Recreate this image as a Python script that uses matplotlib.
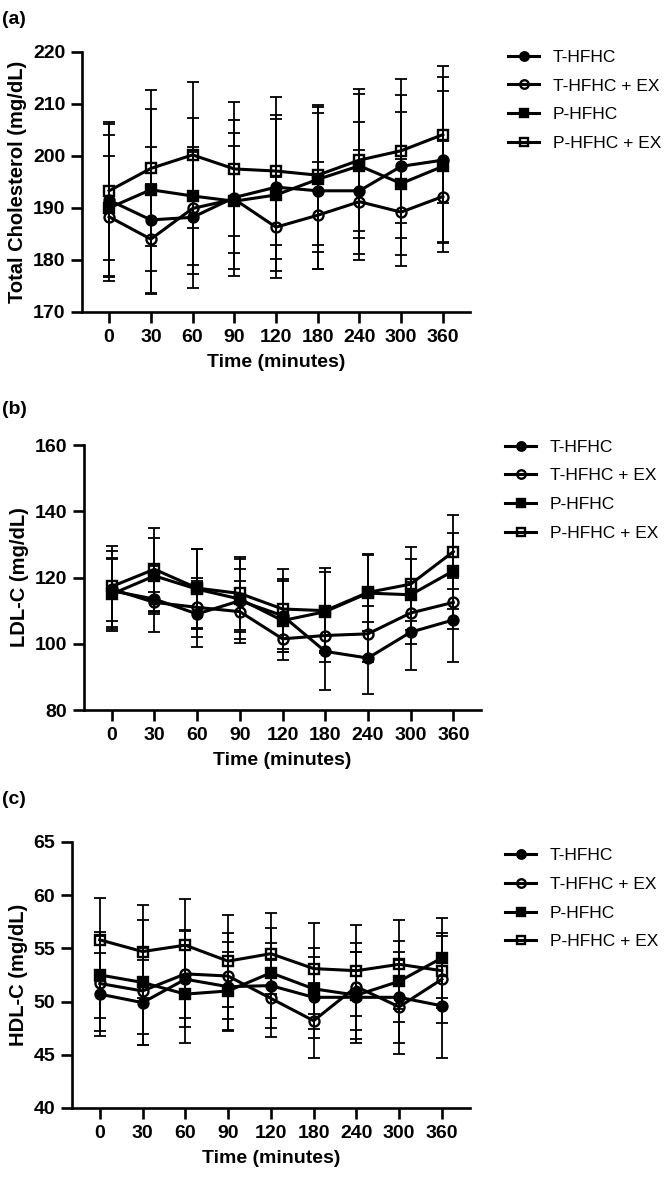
import matplotlib
matplotlib.use("Agg")
import matplotlib.pyplot as plt

plt.rcParams['font.family'] = ['Liberation Sans', 'DejaVu Sans']

times = ['0', '30', '60', '90', '120', '180', '240', '300', '360']
groups = ['T-HFHC', 'T-HFHC + EX', 'P-HFHC', 'P-HFHC + EX']

# (a) total cholesterol, mean and SD
tc_t = [191.5, 187.7, 188.2, 192.0, 194.0, 193.3, 193.3, 198.0, 199.2]
tc_t_sd = [14.6, 14.0, 13.5, 15.0, 13.9, 15.0, 13.3, 13.7, 15.9]
tc_tex = [188.3, 184.0, 189.9, 191.7, 186.3, 188.6, 191.2, 189.2, 192.2]
tc_tex_sd = [11.6, 10.6, 10.8, 10.3, 9.7, 10.3, 10.0, 10.3, 10.6]
tc_p = [190.0, 193.5, 192.3, 191.3, 192.5, 195.5, 198.1, 194.7, 198.0]
tc_p_sd = [14.0, 15.6, 15.0, 13.1, 14.6, 14.0, 13.8, 13.7, 14.5]
tc_pex = [193.3, 197.6, 200.2, 197.5, 197.1, 196.3, 199.2, 201.0, 204.1]
tc_pex_sd = [13.3, 15.0, 14.1, 12.8, 14.3, 13.5, 13.6, 13.8, 13.2]

# (b) LDL-C
ldl_t = [116.0, 113.5, 109.0, 113.0, 108.5, 97.7, 95.7, 103.5, 107.2]
ldl_t_sd = [12.0, 10.0, 10.0, 9.5, 11.0, 11.7, 11.0, 11.5, 12.7]
ldl_tex = [116.5, 112.5, 111.0, 109.7, 101.5, 102.5, 103.0, 109.3, 112.5]
ldl_tex_sd = [9.5, 3.0, 9.0, 9.4, 4.0, 8.0, 8.5, 9.3, 8.0]
ldl_p = [115.0, 120.5, 116.5, 113.5, 107.0, 109.7, 115.3, 114.8, 122.0]
ldl_p_sd = [10.5, 11.5, 12.0, 12.0, 12.0, 12.0, 11.5, 10.7, 11.5]
ldl_pex = [117.3, 122.5, 116.8, 115.2, 110.5, 110.0, 115.5, 118.0, 127.8]
ldl_pex_sd = [12.2, 12.5, 11.9, 11.0, 12.2, 12.8, 11.5, 11.2, 11.2]

# (c) HDL-C
hdl_t = [50.7, 49.9, 52.1, 51.4, 51.5, 50.4, 50.4, 50.4, 49.6]
hdl_t_sd = [3.9, 4.0, 4.5, 4.2, 4.0, 3.8, 4.3, 4.3, 4.9]
hdl_tex = [51.7, 51.0, 52.6, 52.4, 50.3, 48.2, 51.4, 49.5, 52.1]
hdl_tex_sd = [4.5, 4.0, 4.1, 4.0, 3.6, 3.5, 4.1, 4.4, 4.1]
hdl_p = [52.5, 51.8, 50.7, 51.0, 52.7, 51.2, 50.6, 51.9, 54.1]
hdl_p_sd = [4.0, 5.9, 4.6, 3.7, 4.2, 3.8, 4.1, 3.8, 3.8]
hdl_pex = [55.8, 54.7, 55.3, 53.8, 54.5, 53.1, 52.9, 53.5, 52.9]
hdl_pex_sd = [3.9, 4.4, 4.3, 4.3, 3.8, 4.3, 4.3, 4.2, 3.5]

markers = ['o', 'o', 's', 's']
faces = ['black', 'none', 'black', 'none']
msizes = [7.2, 7.2, 6.8, 6.8]

fig = plt.figure(figsize=(6.64, 11.83), dpi=100)

panels = [
    ('(a)', 'Total Cholesterol (mg/dL)', [(tc_t, tc_t_sd), (tc_tex, tc_tex_sd), (tc_p, tc_p_sd), (tc_pex, tc_pex_sd)],
     (170, 220), range(170, 221, 10), [0.1235, 0.7363, 0.5843, 0.2198], (0.765, 0.958), 1 - 20 / 1183),
    ('(b)', 'LDL-C (mg/dL)', [(ldl_t, ldl_t_sd), (ldl_tex, ldl_tex_sd), (ldl_p, ldl_p_sd), (ldl_pex, ldl_pex_sd)],
     (80, 160), range(80, 161, 20), [0.1265, 0.3998, 0.598, 0.224], (0.7605, 0.6285), 1 - 410 / 1183),
    ('(c)', 'HDL-C (mg/dL)', [(hdl_t, hdl_t_sd), (hdl_tex, hdl_tex_sd), (hdl_p, hdl_p_sd), (hdl_pex, hdl_pex_sd)],
     (40, 65), range(40, 66, 5), [0.1084, 0.0634, 0.599, 0.2249], (0.7605, 0.283), 1 - 800 / 1183),
]

x = list(range(len(times)))

for tag, ylab, series, ylim, yt, rect, legpos, tagy in panels:
    ax = fig.add_axes(rect)
    handles = []
    for i, (m, sd) in enumerate(series):
        ax.errorbar(x, m, yerr=sd, fmt='none', ecolor='black', elinewidth=1.3,
                    capsize=4.5, capthick=1.3, zorder=2)
        ln, = ax.plot(x, m, color='black', lw=2.2, marker=markers[i], ms=msizes[i],
                      mfc=faces[i], mec='black', mew=1.7, zorder=3, label=groups[i])
        handles.append(ln)
    ax.set_xlim(-0.65, 8.65)
    ax.set_ylim(*ylim)
    ax.set_yticks(list(yt))
    ax.set_xticks(x)
    ax.set_xticklabels(times)
    for s in ['top', 'right']:
        ax.spines[s].set_visible(False)
    for s in ['left', 'bottom']:
        ax.spines[s].set_linewidth(1.9)
    ax.tick_params(width=1.9, length=8, labelsize=14, pad=4)
    for lab in ax.get_xticklabels() + ax.get_yticklabels():
        lab.set_fontweight('bold')
    ax.set_xlabel('Time (minutes)', fontsize=14, fontweight='bold', labelpad=6)
    ax.set_ylabel(ylab, fontsize=14.5, fontweight='bold', labelpad=4)
    ax.legend(handles=handles, loc='upper left', bbox_to_anchor=legpos,
              bbox_transform=fig.transFigure, frameon=False, fontsize=12.5,
              handlelength=1.8, handletextpad=0.8, labelspacing=0.78,
              borderpad=0, borderaxespad=0, markerscale=0.85)
    fig.text(0.003, tagy, tag, fontsize=14, fontweight='bold', va='center')

fig.savefig('out.png', dpi=100)
